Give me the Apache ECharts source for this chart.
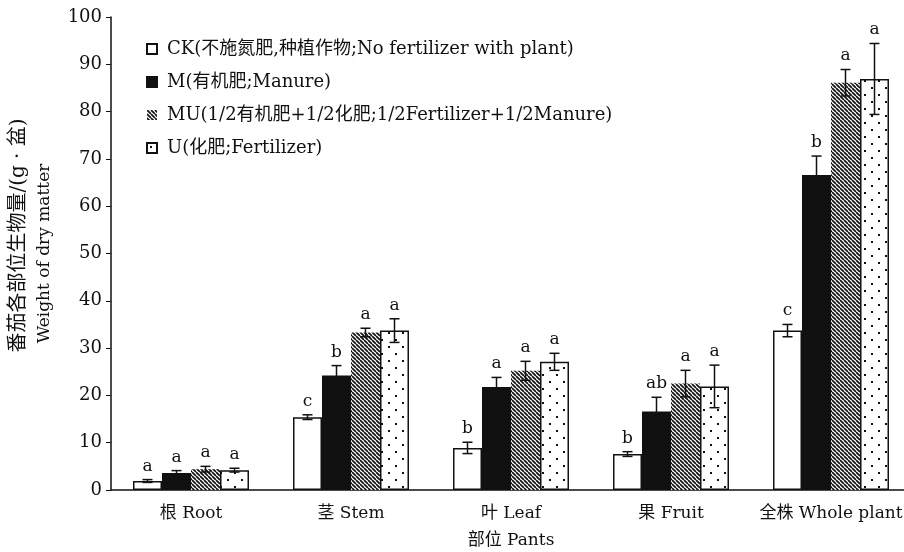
<!DOCTYPE html>
<html>
<head>
<meta charset="utf-8">
<script src="https://cdn.jsdelivr.net/npm/echarts@6/dist/echarts.min.js"></script>
<style>
  html, body { margin: 0; padding: 0; background: #fff; }
  #chart { width: 904px; height: 552px; }
</style>
</head>
<body>
<div id="chart"></div>
<script>
// Plant parts on the x axis
const categories = ['根 Root', '茎 Stem', '叶 Leaf', '果 Fruit', '全株 Whole plant'];

// Dry matter weight (g/pot) per treatment
const ckValues = [1.9, 15.4, 8.9, 7.6, 33.7];
const mValues  = [3.6, 24.2, 21.8, 16.6, 66.6];
const muValues = [4.4, 33.3, 25.2, 22.5, 86.1];
const uValues  = [4.2, 33.7, 27.1, 21.9, 86.9];

// Standard errors
const ckErr = [0.3, 0.5, 1.2, 0.5, 1.3];
const mErr  = [0.5, 2.1, 2.0, 3.0, 4.0];
const muErr = [0.6, 0.9, 2.0, 2.8, 2.8];
const uErr  = [0.4, 2.5, 1.8, 4.5, 7.5];

// Significance letters
const ckSig = ['a', 'c', 'b', 'b', 'c'];
const mSig  = ['a', 'b', 'a', 'ab', 'b'];
const muSig = ['a', 'a', 'a', 'a', 'a'];
const uSig  = ['a', 'a', 'a', 'a', 'a'];

const seriesNames = [
  'CK(不施氮肥,种植作物;No fertilizer with plant)',
  'M(有机肥;Manure)',
  'MU(1/2有机肥+1/2化肥;1/2Fertilizer+1/2Manure)',
  'U(化肥;Fertilizer)'
];

const yTicks = { min: 0, max: 100, interval: 10 };

const FONT = "'DejaVu Serif', 'Noto Sans CJK SC', serif";
const BAR_W = 29;

function stripePattern() {
  const c = document.createElement('canvas');
  const p = 4;
  c.width = p; c.height = p;
  const ctx = c.getContext('2d');
  ctx.fillStyle = '#fff';
  ctx.fillRect(0, 0, p, p);
  ctx.strokeStyle = '#111';
  ctx.lineWidth = 1.7;
  for (let k = -1; k <= 1; k++) {
    ctx.beginPath();
    ctx.moveTo(k * p, 0);
    ctx.lineTo(k * p + p, p);
    ctx.stroke();
  }
  return c;
}

function dotPattern() {
  const c = document.createElement('canvas');
  c.width = 14; c.height = 14;
  const ctx = c.getContext('2d');
  ctx.fillStyle = '#fff';
  ctx.fillRect(0, 0, 14, 14);
  ctx.fillStyle = '#111';
  ctx.fillRect(3, 3, 2, 2);
  ctx.fillRect(10, 10, 2, 2);
  return c;
}

const fills = [
  { color: '#fff', borderColor: '#111', borderWidth: 1.5 },
  { color: '#111', borderColor: '#111', borderWidth: 1.5 },
  { color: { image: stripePattern(), repeat: 'repeat' }, borderColor: '#111', borderWidth: 0 },
  { color: { image: dotPattern(), repeat: 'repeat' }, borderColor: '#111', borderWidth: 1.5 }
];

const valueSets = [ckValues, mValues, muValues, uValues];
const errSets = [ckErr, mErr, muErr, uErr];
const sigSets = [ckSig, mSig, muSig, uSig];

const barSeries = valueSets.map((vals, i) => ({
  name: seriesNames[i],
  type: 'bar',
  barWidth: BAR_W,
  barGap: '0%',
  itemStyle: fills[i],
  data: vals,
  z: 2
}));

const errorSeries = valueSets.map((vals, i) => ({
  type: 'custom',
  name: 'err' + i,
  z: 5,
  data: vals.map((v, j) => [j, v, errSets[i][j]]),
  renderItem: function (params, api) {
    const cat = api.value(0);
    const v = api.value(1);
    const e = api.value(2);
    const sig = sigSets[i][cat];
    const hi = api.coord([cat, v + e]);
    const lo = api.coord([cat, v - e]);
    const x = hi[0] + (i - 1.5) * BAR_W;
    const cap = 5;
    const stroke = { stroke: '#111', lineWidth: 1.5 };
    return {
      type: 'group',
      children: [
        { type: 'line', shape: { x1: x, y1: hi[1], x2: x, y2: lo[1] }, style: stroke },
        { type: 'line', shape: { x1: x - cap, y1: hi[1], x2: x + cap, y2: hi[1] }, style: stroke },
        { type: 'line', shape: { x1: x - cap, y1: lo[1], x2: x + cap, y2: lo[1] }, style: stroke },
        {
          type: 'text',
          style: {
            x: x, y: hi[1] - 5, text: sig,
            textAlign: 'center', textVerticalAlign: 'bottom',
            font: '17px ' + FONT, fill: '#111'
          }
        }
      ]
    };
  }
}));

const chart = echarts.init(document.getElementById('chart'), null, { renderer: 'canvas' });

chart.setOption({
  backgroundColor: '#fff',
  animation: false,
  grid: { left: 111, right: -7, top: 17, bottom: 62, containLabel: false, outerBoundsMode: 'none' },
  legend: {
    data: seriesNames.map(n => ({ name: n, icon: 'rect' })),
    orient: 'vertical',
    left: 141,
    top: 33,
    itemWidth: 10,
    itemHeight: 10,
    itemGap: 11,
    textStyle: { fontFamily: FONT, fontSize: 18, color: '#111', padding: [0, 0, 0, 5], lineHeight: 22 }
  },
  xAxis: {
    type: 'category',
    data: categories,
    axisLine: { lineStyle: { color: '#111', width: 1.5 } },
    axisTick: { inside: true, length: 5, lineStyle: { color: '#111' } },
    axisLabel: { fontFamily: FONT, fontSize: 17, color: '#111', margin: 15, interval: 0 },
    name: '部位 Pants',
    nameLocation: 'middle',
    nameGap: 42,
    nameTextStyle: { fontFamily: FONT, fontSize: 17, color: '#111' }
  },
  yAxis: {
    type: 'value',
    min: yTicks.min,
    max: yTicks.max,
    interval: yTicks.interval,
    axisLine: { show: true, lineStyle: { color: '#111', width: 1.5 } },
    axisTick: { show: true, length: 5, lineStyle: { color: '#111' } },
    axisLabel: { fontFamily: FONT, fontSize: 18, color: '#111', margin: 9 },
    splitLine: { show: false },
    name: '{cn|番茄各部位生物量/(g · 盆)}\n{en|Weight of dry matter}',
    nameLocation: 'middle',
    nameRotate: 90,
    nameGap: 53,
    nameTextStyle: {
      fontFamily: FONT, fontSize: 17, color: '#111',
      rich: {
        cn: { fontFamily: FONT, fontSize: 20, lineHeight: 26, color: '#111', padding: [0, 0, 0, 36] },
        en: { fontFamily: FONT, fontSize: 17, lineHeight: 26, color: '#111' }
      }
    }
  },
  series: barSeries.concat(errorSeries)
});
</script>
</body>
</html>
